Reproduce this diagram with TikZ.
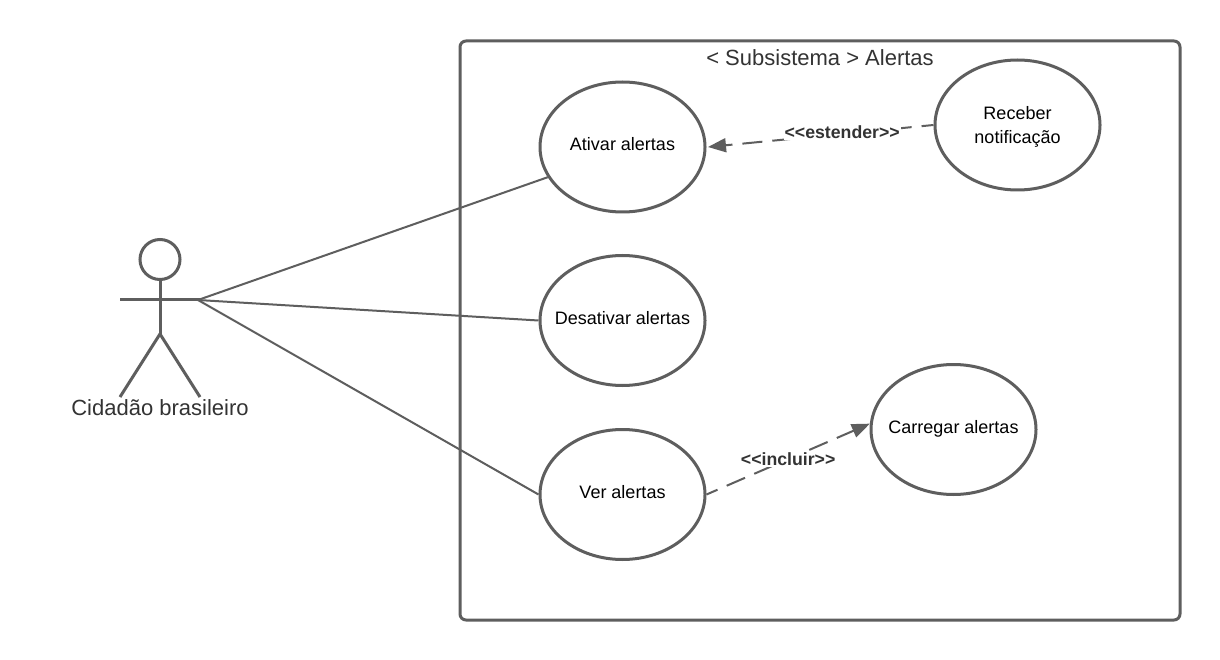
\documentclass[tikz,border=0pt]{standalone}
\usepackage{fontspec}
\setmainfont{Liberation Sans}
\usetikzlibrary{shapes.geometric,arrows.meta}
\definecolor{ln}{HTML}{5E5E5E}
\definecolor{tx}{HTML}{333333}
\tikzset{
  usecase/.style={draw=ln,line width=3pt,ellipse,minimum width=165pt,minimum height=130pt,inner sep=0pt,align=center,font=\fontsize{18}{24}\selectfont,text=black},
  frame/.style={draw=ln,line width=3pt,rounded corners=6pt},
  actorline/.style={draw=ln,line width=3pt},
  assoc/.style={draw=ln,line width=2pt},
  dep/.style={draw=ln,line width=2pt,dash pattern=on 20pt off 10pt,dash phase=8pt,-{Triangle[length=18pt,width=14pt]}},
  deplabel/.style={fill=white,inner sep=1pt,font=\bfseries\fontsize{17.7}{18}\selectfont,text=tx},
  plain/.style={text=tx,font=\fontsize{22}{26}\selectfont,inner sep=0pt}
}
\newcommand{\dblopen}{<{}\kern0pt<{}}
\newcommand{\dblclose}{>{}\kern0pt>{}}
\newcommand{\ctext}[2][0pt]{\raisebox{#1}{\makebox[0pt][c]{#2}}}
\begin{document}
\begin{tikzpicture}[x=1pt,y=-1pt]
\useasboundingbox[fill=white] (0,0) rectangle (1220,660);
\draw[frame] (460,41) rectangle (1180,620);
\node[plain] (title) at (820,58) {< Subsistema > Alertas};
\node[usecase] (ativar) at (622.5,147) {\ctext[5.5pt]{Ativar alertas}};
\node[usecase] (desativar) at (622.5,320.5) {\ctext[5.5pt]{Desativar alertas}};
\node[usecase] (ver) at (622.5,494.5) {\ctext[5pt]{Ver alertas}};
\node[usecase] (receber) at (1017.5,125) {\rule{0pt}{17.5pt}\ctext{Receber}\\\ctext{notificação}};
\node[usecase] (carregar) at (953.5,429.5) {\ctext[5pt]{Carregar alertas}};
% actor
\node[draw=ln,line width=3pt,circle,minimum size=40pt,inner sep=0pt] (head) at (160,259.5) {};
\coordinate (hip) at (160,334);
\coordinate (handL) at (120,299);
\coordinate (handR) at (200,299);
\coordinate (footL) at (120,397);
\coordinate (footR) at (200,397);
\coordinate (hub) at (198,300);
\draw[actorline] (head.south) -- (hip);
\draw[actorline] (handL) -- (handR);
\draw[actorline] (footL) -- (hip) -- (footR);
\node[plain] (actor) at (160,408) {Cidadão brasileiro};
% associations
\draw[assoc] (hub) -- (ativar.202);
\draw[assoc] (hub) -- (desativar.west);
\draw[assoc] (hub) -- (ver.west);
% dependencies
\coordinate (tipA) at ([xshift=1.5pt]ativar.east);
\draw[dep] (receber.west) -- (tipA) node[pos=0.405,deplabel,yshift=1.5pt] (l1) {\dblopen estender\dblclose};
\draw[dep] (ver.east) -- (carregar.176) node[pos=0.5,deplabel] (l2) {\dblopen incluir\dblclose};
\end{tikzpicture}
\end{document}
